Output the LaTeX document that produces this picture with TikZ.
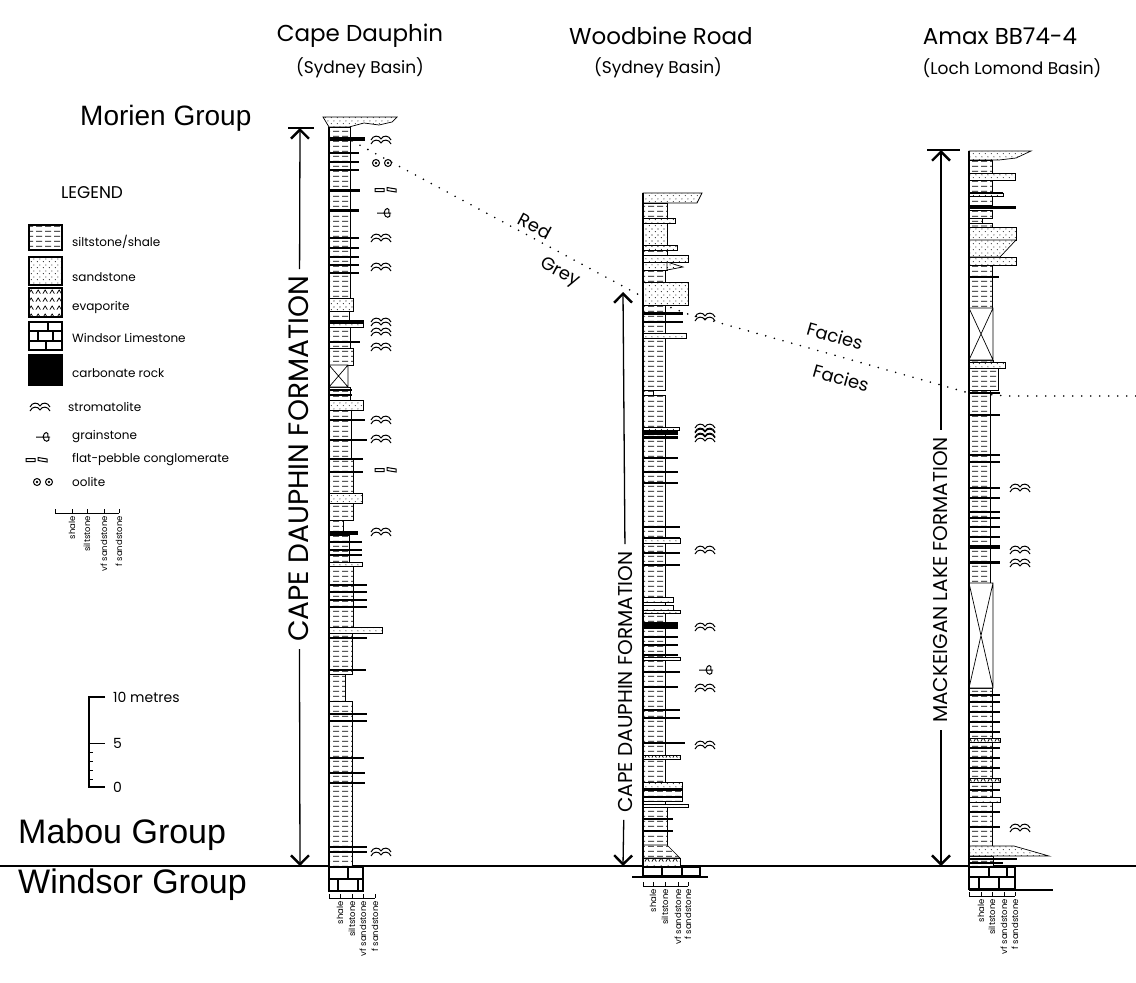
\documentclass[tikz,border=0pt]{standalone}
\usepackage{fontspec}
\setmainfont{Poppins}
\newfontfamily\grpfont{Liberation Sans}
\usetikzlibrary{arrows.meta,patterns}
\pgfdeclarepatternformonly{siltshale}{\pgfqpoint{0pt}{0pt}}{\pgfqpoint{9pt}{5pt}}{\pgfqpoint{9pt}{5pt}}{%
  \pgfsetlinewidth{0.9pt}%
  \pgfpathmoveto{\pgfqpoint{0pt}{2pt}}\pgfpathlineto{\pgfqpoint{6.5pt}{2pt}}%
  \pgfusepath{stroke}}
\pgfdeclarepatternformonly{sanddots}{\pgfqpoint{0pt}{0pt}}{\pgfqpoint{6pt}{6pt}}{\pgfqpoint{6pt}{6pt}}{%
  \pgfpathcircle{\pgfqpoint{1.5pt}{1.5pt}}{0.6pt}%
  \pgfpathcircle{\pgfqpoint{4.5pt}{4.5pt}}{0.6pt}%
  \pgfusepath{fill}}
\pgfdeclarepatternformonly{evapmarks}{\pgfqpoint{0pt}{0pt}}{\pgfqpoint{7pt}{8pt}}{\pgfqpoint{7pt}{8pt}}{%
  \pgfsetlinewidth{0.8pt}%
  \pgfpathmoveto{\pgfqpoint{1pt}{1.5pt}}\pgfpathlineto{\pgfqpoint{3.5pt}{5.5pt}}\pgfpathlineto{\pgfqpoint{6pt}{1.5pt}}%
  \pgfusepath{stroke}}
\tikzset{%
  tipA/.tip={Straight Barb[length=9pt,width=18pt,line width=2.4pt]},
  silt/.style={draw,line width=0.7pt,fill=white,postaction={pattern=siltshale}},
  sand/.style={draw,line width=0.7pt,fill=white,postaction={pattern=sanddots}},
  evap/.style={draw,line width=0.7pt,fill=white,postaction={pattern=evapmarks}},
  covered/.style={draw,line width=0.7pt,fill=white},
  carb/.style={line width=#1pt},
  carb/.default=2,
  lstone/.style={draw,line width=1.3pt,fill=white},
  legbox/.style={draw,line width=2pt},
  facies/.style={line width=1.8pt,dash pattern=on 0pt off 9pt,line cap=round},
  formlabel/.style={rotate=90,font=\fontsize{#1}{#1}\selectfont,inner sep=7pt},
  formarrow/.style={line width=1.3pt,-tipA},
  grainlab/.style={rotate=90,anchor=east,inner sep=1pt,font=\fontsize{8.5}{9}\selectfont},
  leglab/.style={anchor=west,inner sep=0pt,font=\fontsize{12}{12}\selectfont},
  grouplab/.style={anchor=west,inner sep=0pt,font=\grpfont\fontsize{34}{34}\selectfont},
  sitename/.style={font=\fontsize{23}{23}\selectfont},
  basinname/.style={font=\fontsize{17}{17}\selectfont},
  strom/.pic={\draw[line width=1pt] (-10,0) .. controls (-8,-5) and (-2,-5) .. (0,-1)
      .. controls (2,-5) and (8,-5) .. (10,0)
      (-10,4) .. controls (-8,-1) and (-2,-1) .. (0,3) .. controls (2,-1) and (8,-1) .. (10,4);},
  grain/.pic={\draw[line width=1pt] (-7,0) -- (7,0) (0,0) .. controls (1,-6) and (6,-6) .. (5,0)
      (0,0) .. controls (1,6) and (7,5) .. (6,1);},
  pebble/.pic={\draw[line width=1pt] (-11,-1.5) rectangle (-2,1.5) (1,-2.5) -- (10,-1) -- (10,2) -- (1,0.5) -- cycle;},
  oolite/.pic={\draw[line width=1pt] (-6,0) circle (3.5) (6,0) circle (3.5); \fill (-6,0) circle (1.4) (6,0) circle (1.4);}
}
\begin{document}
\begin{tikzpicture}[x=1pt,y=-1pt]
\useasboundingbox (0,0) rectangle (1136,983);

% section names
\node[sitename] (cdname) at (360,36) {Cape Dauphin};
\node[basinname] (cdbasin) at (360,68) {(Sydney Basin)};
\node[sitename] (wrname) at (661,36) {Woodbine Road};
\node[basinname] (wrbasin) at (658,68) {(Sydney Basin)};
\node[sitename] (amname) at (1000,36) {Amax BB74-4};
\node[basinname] (ambasin) at (1012,68) {(Loch Lomond Basin)};

% groups
\node[grouplab,font=\grpfont\fontsize{28}{28}\selectfont] (morien) at (80,118) {Morien Group};
\node[grouplab] (mabou) at (18,835) {Mabou Group};
\node[grouplab] (windsor) at (18,885) {Windsor Group};
\coordinate (baseL) at (0,866);
\coordinate (baseR) at (1136,866);
\draw[line width=1.8pt] (baseL) -- (baseR);

% red / grey facies boundary
\coordinate (fa) at (352,141);
\coordinate (fb) at (643,297);
\coordinate (fc) at (688,314);
\coordinate (fd) at (969,393);
\coordinate (fe) at (1007,396);
\coordinate (ff) at (1136,396);
\draw[facies] (fa) -- (fb) -- (fc) -- (fd) -- (fe) -- (ff);
\node[rotate=-28,font=\fontsize{18}{18}\selectfont] (red) at (535,226) {Red};
\node[rotate=-28,font=\fontsize{18}{18}\selectfont] (grey) at (560,273) {Grey};
\node[rotate=-16,font=\fontsize{18}{18}\selectfont] (faciesA) at (835,336) {Facies};
\node[rotate=-16,font=\fontsize{18}{18}\selectfont] (faciesB) at (841,378) {Facies};

% formation arrows
\coordinate (cdtop) at (300,128);
\coordinate (cdbot) at (300,866);
\node[formlabel=28] (cdform) at (299,459) {CAPE DAUPHIN FORMATION};
\draw[formarrow] (cdform) -- (cdtop);
\draw[formarrow] (cdform) -- (cdbot);
\draw[line width=1.3pt] (288,128) -- (314,128);
\coordinate (wrtop) at (623,292);
\coordinate (wrbot) at (623,866);
\node[formlabel=20] (wrform) at (626,682) {CAPE DAUPHIN FORMATION};
\draw[formarrow] (wrform) -- (wrtop);
\draw[formarrow] (wrform) -- (wrbot);
\coordinate (amtop) at (941,150);
\coordinate (ambot) at (941,866);
\node[formlabel=20] (amform) at (941,580) {MACKEIGAN LAKE FORMATION};
\draw[formarrow] (amform) -- (amtop);
\draw[formarrow] (amform) -- (ambot);
\draw[line width=1.3pt] (927,150) -- (960,150);

% Cape Dauphin column
\begin{scope}[shift={(329,0)}]
  \draw[sand] (-6,117) -- (68,117) -- (63,122) -- (50,125) -- (35,123) -- (20,127) -- (0,127) -- cycle;
  \foreach \t/\b/\w in {127/298/21, 311/320/20, 327/348/21, 348/365/24, 387/400/21, 410/458/22,
      458/493/24, 503/520/24, 520/535/14, 535/562/20, 566/627/24, 633/674/23, 674/701/16, 701/866/23}
    \draw[silt] (0,\t) rectangle (\w,\b);
  \foreach \t/\b/\w in {298/311/24, 320/327/34, 400/410/34, 493/503/33, 562/566/33, 627/633/53}
    \draw[sand] (0,\t) rectangle (\w,\b);
  \draw[covered] (0,365) rectangle (19,387) (0,365) -- (19,387) (19,365) -- (0,387);
  \foreach \y/\w/\h in {139/36/3.5, 153/30/1.5, 162/30/1.5, 170/30/1.5, 190/31/3, 210/30/3,
      238/30/1.5, 248/30/1.5, 257/30/1.5, 265/30/1.5, 273/30/1.5, 322/34/3, 342/31/2, 390/23/2,
      395/23/2, 420/36/2, 440/38/2, 459/34/2, 472/34/2, 533/29/4, 542/33/1.5, 550/33/1.5,
      555/33/1.5, 585/38/2, 592/38/2, 600/38/2, 607/38/2, 638/38/2, 670/37/2, 714/38/2.5,
      721/38/2.5, 758/35/2, 773/36/2.5, 783/36/2.5, 847/38/2.5, 852/38/2}
    \draw[carb=\h] (0,\y) -- (\w,\y);
  \draw[line width=1.6pt] (0,127) -- (0,866);
  \draw[lstone] (0,867) rectangle (34,891);
  \draw[line width=1.3pt] (0,879) -- (34,879) (19,867) -- (19,879) (9,879) -- (9,891) (29,879) -- (29,891);
  \draw[line width=0.8pt] (0,898) -- (46,898);
  \foreach \x in {0,11,23,34,46}
    \draw[line width=0.8pt] (\x,898) -- (\x,894);
  \foreach \x/\g in {11/shale,23/siltstone,34/vf sandstone,46/f sandstone}
    \node[grainlab] (cdgrain\x) at (\x,900) {\g};
\end{scope}
\foreach \y in {140,238,267,322,332,347,420,439,532,852}
  \pic at (381,\y) {strom};
\pic at (382,163) {oolite};
\pic at (386,190) {pebble};
\pic at (386,470) {pebble};
\pic at (384,213) {grain};

% Woodbine Road column
\begin{scope}[shift={(643,0)}]
  \draw[sand] (0,193) -- (59,193) -- (54,203) -- (0,203) -- cycle;
  \foreach \t/\b/\w in {203/218/24, 250/255/24, 270/282/22, 305/333/22, 338/390/22, 390/395/10,
      395/427/22, 430/538/22, 543/597/22, 602/605/22, 613/657/22, 660/755/22, 759/782/22,
      788/801/39, 801/804/22, 807/845/24}
    \draw[silt] (0,\t) rectangle (\w,\b);
  \draw[silt] (0,845) -- (24,845) -- (30,851) -- (37,858) -- (0,858) -- cycle;
  \foreach \t/\b/\w in {218/223/32, 223/245/24, 245/250/34, 255/262/45, 262/270/24, 282/305/45,
      333/338/43, 427/430/36, 538/543/37, 610/613/37, 657/660/37, 782/788/39, 804/807/45}
    \draw[sand] (0,\t) rectangle (\w,\b);
  \draw[sand] (24,262) -- (40,267) -- (24,270) -- cycle;
  \foreach \t/\b/\w in {597/602/30, 605/610/30, 755/759/37, 858/866/37}
    \draw[evap] (0,\t) rectangle (\w,\b);
  \foreach \y/\w/\h in {313/40/3, 322/40/2, 433/35/4, 437/35/3, 458/35/2, 472/35/2, 483/35/2,
      527/37/2, 538/37/1.5, 553/37/2, 565/37/2, 624/35/4, 627/35/3, 637/35/2, 645/35/2,
      655/35/2, 672/37/2, 687/35/2, 710/37/2, 718/37/2, 743/42/2, 790/39/2, 797/39/2,
      819/30/1.5, 831/30/1.5}
    \draw[carb=\h] (0,\y) -- (\w,\y);
  \draw[line width=1.6pt] (0,193) -- (0,866);
  \draw[lstone] (0,867) rectangle (57,876);
  \draw[line width=1.3pt] (19,867) -- (19,876) (39,867) -- (39,876) (-11,877) -- (65,877);
  \draw[line width=0.8pt] (0,886) -- (45,886);
  \foreach \x in {0,10,22,35,45}
    \draw[line width=0.8pt] (\x,886) -- (\x,882);
  \foreach \x/\g in {10/shale,22/siltstone,35/vf sandstone,45/f sandstone}
    \node[grainlab] (wrgrain\x) at (\x,888) {\g};
\end{scope}
\foreach \y in {317,428,433,438,550,627,688,745}
  \pic at (705,\y) {strom};
\pic at (706,670) {grain};

% Amax BB74-4 column
\begin{scope}[shift={(969,0)}]
  \draw[sand] (0,151) -- (62,151) -- (47,158) -- (30,160) -- (0,160) -- cycle;
  \foreach \t/\b/\w in {160/173/23, 180/193/23, 196/205/23, 210/218/23, 218/223/13, 223/227/23,
      265/308/23, 360/362/24, 368/390/29, 390/583/21, 688/846/23, 856/866/24}
    \draw[silt] (0,\t) rectangle (\w,\b);
  \foreach \t/\b/\w in {173/180/46, 193/196/34, 227/240/47, 257/265/47, 362/368/36}
    \draw[sand] (0,\t) rectangle (\w,\b);
  \draw[sand] (0,240) -- (47,240) -- (31,257) -- (0,257) -- cycle;
  \draw[sand] (0,846) -- (45,846) -- (80,856) -- (0,856) -- cycle;
  \foreach \t/\b/\w in {738/742/31, 778/782/31, 797/802/31}
    \draw[evap] (0,\t) rectangle (\w,\b);
  \draw[covered] (0,308) rectangle (24,360) (0,308) -- (24,360) (24,308) -- (0,360);
  \draw[covered] (0,583) rectangle (24,688) (0,583) -- (24,688) (24,583) -- (0,688);
  \foreach \y/\w/\h in {193/34/2, 207/47/3, 277/30/2, 393/31/2, 415/31/2, 455/31/2, 462/31/2,
      488/31/2, 498/31/2, 512/31/2, 518/31/2, 527/31/2, 537/31/2, 547/31/4, 562/31/3,
      695/31/2, 702/31/1.5, 712/31/2, 722/31/2, 732/31/2, 748/31/2, 758/31/2, 768/31/2,
      790/31/2, 812/31/2, 827/31/2, 859/48/1.5, 863/34/1.5}
    \draw[carb=\h] (0,\y) -- (\w,\y);
  \draw[line width=1.6pt] (0,151) -- (0,866);
  \draw[lstone] (0,867) rectangle (46,889);
  \draw[line width=1.3pt] (0,877) -- (46,877) (20,867) -- (20,877) (38,867) -- (38,877)
    (10,877) -- (10,889) (30,877) -- (30,889) (0,890) -- (84,890);
  \draw[line width=0.8pt] (0,896) -- (46,896);
  \foreach \x in {0,12,23,35,46}
    \draw[line width=0.8pt] (\x,896) -- (\x,892);
  \foreach \x/\g in {12/shale,23/siltstone,35/vf sandstone,46/f sandstone}
    \node[grainlab] (amgrain\x) at (\x,898) {\g};
\end{scope}
\foreach \y in {488,550,563,828}
  \pic at (1020,\y) {strom};

% legend
\node[font=\fontsize{17}{17}\selectfont] (legend) at (92,193) {LEGEND};
\draw[legbox,fill=white,postaction={pattern=siltshale}] (29,225) rectangle (62,250);
\node[leglab] (lgsilt) at (72,242) {siltstone/shale};
\draw[legbox,fill=white,postaction={pattern=sanddots}] (29,257) rectangle (62,285);
\node[leglab] (lgsand) at (72,277) {sandstone};
\draw[legbox,fill=white,postaction={pattern=evapmarks}] (29,288) rectangle (62,317);
\node[leglab] (lgevap) at (72,307) {evaporite};
\draw[legbox,fill=white] (29,322) rectangle (62,350);
\draw[line width=2pt] (29,331) -- (62,331) (29,341) -- (62,341) (48,322) -- (48,331)
  (38,331) -- (38,341) (53,331) -- (53,341) (46,341) -- (46,350);
\node[leglab] (lglime) at (72,338) {Windsor Limestone};
\draw[legbox,fill=black] (29,355) rectangle (62,385);
\node[leglab] (lgcarb) at (72,373) {carbonate rock};
\pic at (40,407) {strom};
\node[leglab] (lgstrom) at (68,407) {stromatolite};
\pic at (43,437) {grain};
\node[leglab] (lggrain) at (72,437) {grainstone};
\pic at (37,460) {pebble};
\node[leglab] (lgpeb) at (72,460) {flat-pebble conglomerate};
\pic at (43,482) {oolite};
\node[leglab] (lgool) at (72,482) {oolite};
\draw[line width=0.8pt] (55,513) -- (119,513);
\foreach \x in {55,72,87,104,119}
  \draw[line width=0.8pt] (\x,513) -- (\x,509);
\foreach \x/\g in {72/shale,87/siltstone,104/vf sandstone,119/f sandstone}
  \node[grainlab] (lggrain\x) at (\x,515) {\g};

% scale bar
\draw[line width=1.8pt] (105,697) -- (89,697) -- (89,787) -- (105,787);
\draw[line width=1pt] (89,743) -- (105,743);
\foreach \y in {752,761,770,779}
  \draw[line width=1pt] (89,\y) -- (93,\y);
\node[leglab,font=\fontsize{14}{14}\selectfont] (tenm) at (113,697) {10 metres};
\node[leglab,font=\fontsize{14}{14}\selectfont] (fivem) at (113,743) {5};
\node[leglab,font=\fontsize{14}{14}\selectfont] (zerom) at (113,787) {0};
\end{tikzpicture}
\end{document}
